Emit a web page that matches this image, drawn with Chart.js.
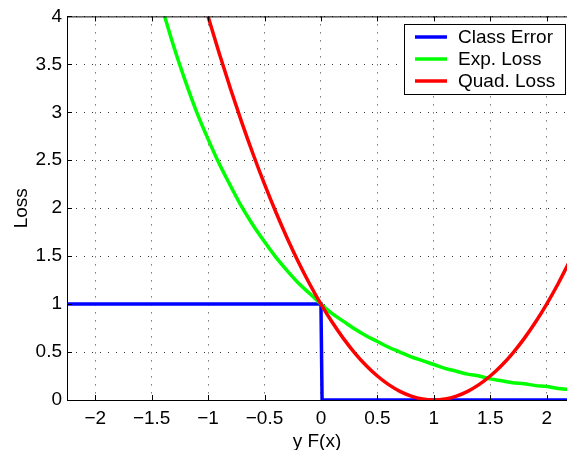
<!DOCTYPE html>
<html>
<head>
<meta charset="utf-8">
<script src="https://cdn.jsdelivr.net/npm/chart.js@4.4.1/dist/chart.umd.min.js"></script>
<style>
  html, body { margin: 0; padding: 0; background: #fff; }
  #wrap { width: 567px; height: 450px; }
</style>
</head>
<body>
<div id="wrap"><canvas id="lossChart"></canvas></div>
<script>
// Values
const errX = [-2.25, 0, 0.01, 2.25];
const errY = [1, 1, 0, 0];

const expX = [-1.4, -1.3, -1.2, -1.1, -1.0, -0.9, -0.8, -0.7, -0.6, -0.5, -0.4, -0.3, -0.2, -0.1,
              0, 0.1, 0.2, 0.3, 0.4, 0.5, 0.6, 0.7, 0.8, 0.9, 1.0, 1.1, 1.2, 1.3, 1.4, 1.5,
              1.6, 1.7, 1.8, 1.9, 2.0, 2.1, 2.2];
const expY = [4.06, 3.67, 3.32, 3.00, 2.72, 2.46, 2.23, 2.01, 1.82, 1.65, 1.49, 1.35, 1.22, 1.11,
              1.00, 0.90, 0.82, 0.74, 0.67, 0.61, 0.55, 0.50, 0.45, 0.41, 0.37, 0.33, 0.30, 0.27, 0.25, 0.22,
              0.20, 0.18, 0.17, 0.15, 0.14, 0.12, 0.11];

const quadX = [-1.0, -0.9, -0.8, -0.7, -0.6, -0.5, -0.4, -0.3, -0.2, -0.1,
               0, 0.1, 0.2, 0.3, 0.4, 0.5, 0.6, 0.7, 0.8, 0.9, 1.0, 1.1, 1.2, 1.3, 1.4, 1.5,
               1.6, 1.7, 1.8, 1.9, 2.0, 2.1, 2.2];
const quadY = [4.00, 3.61, 3.24, 2.89, 2.56, 2.25, 1.96, 1.69, 1.44, 1.21,
               1.00, 0.81, 0.64, 0.49, 0.36, 0.25, 0.16, 0.09, 0.04, 0.01, 0.00, 0.01, 0.04, 0.09, 0.16, 0.25,
               0.36, 0.49, 0.64, 0.81, 1.00, 1.21, 1.44];

const seriesLabels = ['Class Error', 'Exp. Loss', 'Quad. Loss'];
const seriesColors = ['#0000ff', '#00ff00', '#ff0000'];

const xLabel = 'y F(x)';
const yLabel = 'Loss';

const FONT = '"Liberation Sans", Arial, Helvetica, sans-serif';

function toPoints(xs, ys) {
    return xs.map((x, i) => ({ x: x, y: ys[i] }));
}

// matlab style tick text: no trailing zeros, real minus sign
function tickText(value) {
    return String(Math.round(value * 100) / 100).replace('-', '\u2212');
}

// box frame with inward ticks, like the original axes
const framePlugin = {
    id: 'frame',
    afterDatasetsDraw(chart) {
        const ctx = chart.ctx;
        const a = chart.chartArea;
        const xs = chart.scales.x;
        const ys = chart.scales.y;
        ctx.save();
        ctx.strokeStyle = '#000';
        ctx.lineWidth = 1;
        ctx.beginPath();
        ctx.moveTo(a.left, a.top + 0.5);
        ctx.lineTo(a.right, a.top + 0.5);
        xs.ticks.forEach(t => {
            const px = Math.round(xs.getPixelForValue(t.value)) + 0.5;
            ctx.moveTo(px, a.bottom);
            ctx.lineTo(px, a.bottom - 5);
            ctx.moveTo(px, a.top);
            ctx.lineTo(px, a.top + 5);
        });
        ys.ticks.forEach(t => {
            const py = Math.round(ys.getPixelForValue(t.value)) + 0.5;
            ctx.moveTo(a.left, py);
            ctx.lineTo(a.left + 5, py);
        });
        ctx.stroke();
        ctx.restore();
    },
    afterDraw(chart) {
        // legend box in the upper right corner
        const ctx = chart.ctx;
        const bx = 404.5, by = 24.5, bw = 161, bh = 70;
        ctx.save();
        ctx.fillStyle = '#fff';
        ctx.fillRect(bx, by, bw, bh);
        ctx.strokeStyle = '#000';
        ctx.lineWidth = 1;
        ctx.strokeRect(bx, by, bw, bh);
        ctx.font = '19px ' + FONT;
        ctx.textBaseline = 'middle';
        ctx.textAlign = 'left';
        chart.data.datasets.forEach((ds, i) => {
            const yy = 37 + i * 22;
            ctx.strokeStyle = ds.borderColor;
            ctx.lineWidth = 3.5;
            ctx.beginPath();
            ctx.moveTo(415, yy);
            ctx.lineTo(447, yy);
            ctx.stroke();
            ctx.fillStyle = '#000';
            ctx.fillText(ds.label, 458, yy + 1);
        });
        ctx.restore();
    }
};

document.addEventListener('DOMContentLoaded', function() {
    const ctx = document.getElementById('lossChart').getContext('2d');
    new Chart(ctx, {
        type: 'line',
        data: {
            datasets: [
                {
                    label: seriesLabels[0],
                    data: toPoints(errX, errY),
                    borderColor: seriesColors[0],
                    borderWidth: 3.5,
                    pointRadius: 0,
                    tension: 0,
                    order: 3
                },
                {
                    label: seriesLabels[1],
                    data: toPoints(expX, expY),
                    borderColor: seriesColors[1],
                    borderWidth: 3.5,
                    pointRadius: 0,
                    cubicInterpolationMode: 'monotone',
                    order: 2
                },
                {
                    label: seriesLabels[2],
                    data: toPoints(quadX, quadY),
                    borderColor: seriesColors[2],
                    borderWidth: 3.5,
                    pointRadius: 0,
                    cubicInterpolationMode: 'monotone',
                    order: 1
                }
            ]
        },
        options: {
            responsive: true,
            maintainAspectRatio: false,
            animation: false,
            layout: {
                padding: { top: 15, right: 0, bottom: 0, left: 0 }
            },
            plugins: {
                legend: { display: false },
                tooltip: { enabled: false }
            },
            scales: {
                x: {
                    type: 'linear',
                    min: -2.25,
                    max: 2.18,
                    afterFit: function(scale) { scale.height = 50; },
                    grid: {
                        color: '#333',
                        lineWidth: 1,
                        drawTicks: false
                    },
                    border: { display: true, color: '#000', width: 1, dash: [1, 7] },
                    ticks: {
                        stepSize: 0.5,
                        includeBounds: false,
                        padding: 7,
                        maxRotation: 0,
                        color: '#000',
                        font: { family: FONT, size: 19 },
                        callback: tickText
                    },
                    title: {
                        display: true,
                        text: xLabel,
                        color: '#000',
                        font: { family: FONT, size: 19 },
                        padding: { top: 0, bottom: -3 }
                    }
                },
                y: {
                    min: 0,
                    max: 4,
                    afterFit: function(scale) { scale.width = 67; },
                    grid: {
                        color: '#333',
                        lineWidth: 1,
                        drawTicks: false
                    },
                    border: { display: true, color: '#000', width: 1, dash: [1, 7] },
                    ticks: {
                        stepSize: 0.5,
                        padding: 5,
                        color: '#000',
                        font: { family: FONT, size: 19 },
                        callback: tickText
                    },
                    title: {
                        display: true,
                        text: yLabel,
                        color: '#000',
                        font: { family: FONT, size: 19 },
                        padding: { top: 10, bottom: 0 }
                    }
                }
            }
        },
        plugins: [framePlugin]
    });
});
</script>
</body>
</html>
